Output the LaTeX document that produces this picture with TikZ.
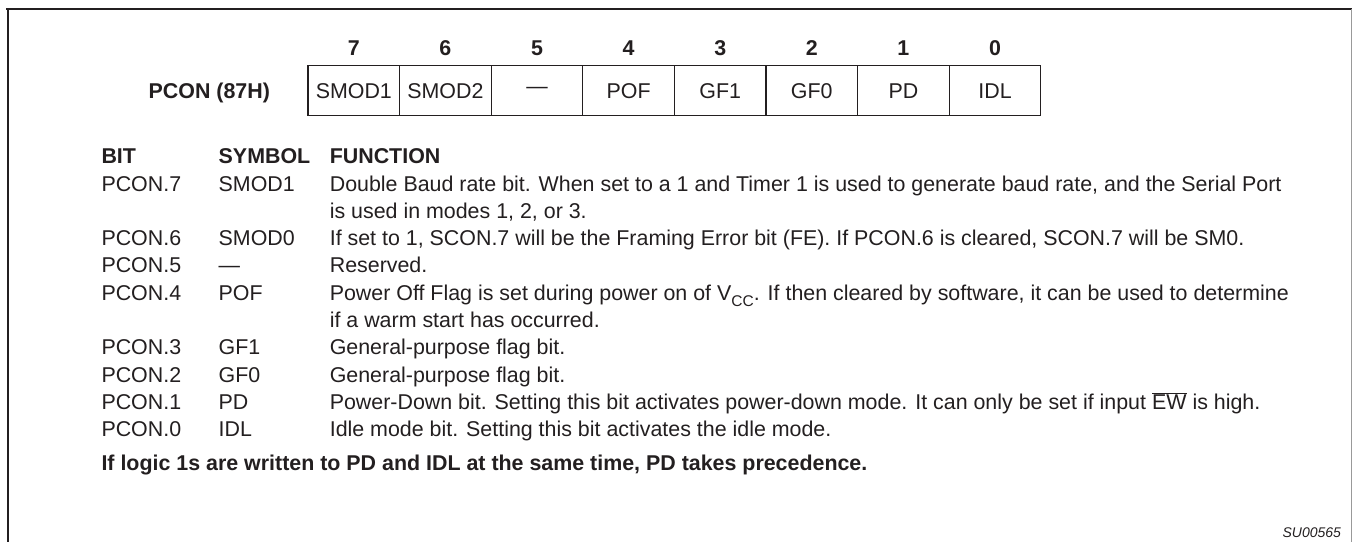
\documentclass[tikz,border=0pt]{standalone}
\usepackage{fontspec}
\setmainfont{Liberation Sans}
\definecolor{ink}{HTML}{231F20}
\begin{document}
\begin{tikzpicture}[x=1pt,y=-1pt,
  txt/.style={inner sep=0pt,outer sep=0pt,anchor=base west,text=ink,font=\fontsize{21.4}{25}\selectfont},
  bold/.style={txt,font=\fontsize{21.4}{25}\selectfont\bfseries},
  cell/.style={draw=ink,line width=1.1pt,minimum width=91.6pt,minimum height=50pt,inner sep=0pt,text=ink,font=\fontsize{21.4}{25}\selectfont},
  bitnum/.style={inner sep=0pt,anchor=base,text=ink,font=\fontsize{21.4}{25}\selectfont\bfseries}]
\useasboundingbox (0,0) rectangle (1352,542);
\fill[white] (0,0) rectangle (1352,542);
% frame
\coordinate (tl) at (6,9);
\coordinate (tr) at (1352,9);
\coordinate (lt) at (8.3,9);
\coordinate (lb) at (8.3,542);
\coordinate (rt) at (1351,9);
\coordinate (rb) at (1351,542);
\draw[line width=2.5pt,ink] (tl) -- (tr);
\draw[line width=2pt,ink] (lt) -- (lb);
\draw[line width=1pt,black!40] (rt) -- (rb);
% register
\foreach \t [count=\i from 0] in {SMOD1,SMOD2,---,POF,GF1,GF0,PD,IDL}{
  \pgfmathsetmacro{\cx}{353.8+91.6*\i}
  \pgfmathtruncatemacro{\b}{7-\i}
  \node[cell] (c\i) at (\cx,90.7) {\t};
  \node[bitnum] (n\i) at (\cx,55.7) {\b};
}
\node[bold,anchor=base east] (reg) at (270,98.7) {PCON (87H)};
% table
\node[bold] (hbit) at (101.5,163.7) {BIT};
\node[bold] (hsym) at (218.7,163.7) {SYMBOL};
\node[bold] (hfun) at (329.8,163.7) {FUNCTION};
% rows
\node[txt] (b7) at (101.5,191.0) {PCON.7};
\node[txt] (s7) at (218.7,191.0) {SMOD1};
\node[txt] (f7) at (329.8,191.0) {Double Baud rate bit. When set to a 1 and Timer 1 is used to generate baud rate, and the Serial Port};
\node[txt] (f7b) at (329.8,218.3) {is used in modes 1, 2, or 3.};
\node[txt] (b6) at (101.5,245.6) {PCON.6};
\node[txt] (s6) at (218.7,245.6) {SMOD0};
\node[txt] (f6) at (329.8,245.6) {If set to 1, SCON.7 will be the Framing Error bit (FE). If PCON.6 is cleared, SCON.7 will be SM0.};
\node[txt] (b5) at (101.5,272.9) {PCON.5};
\node[txt] (s5) at (218.7,272.9) {---};
\node[txt] (f5) at (329.8,272.9) {Reserved.};
\node[txt] (b4) at (101.5,300.2) {PCON.4};
\node[txt] (s4) at (218.7,300.2) {POF};
\node[txt] (f4) at (329.8,300.2) {Power Off Flag is set during power on of V\raisebox{-0.3em}{\fontsize{15.5}{18}\selectfont CC}. If then cleared by software, it can be used to determine};
\node[txt] (f4b) at (329.8,327.5) {if a warm start has occurred.};
\node[txt] (b3) at (101.5,354.8) {PCON.3};
\node[txt] (s3) at (218.7,354.8) {GF1};
\node[txt] (f3) at (329.8,354.8) {General-purpose flag bit.};
\node[txt] (b2) at (101.5,382.1) {PCON.2};
\node[txt] (s2) at (218.7,382.1) {GF0};
\node[txt] (f2) at (329.8,382.1) {General-purpose flag bit.};
\node[txt] (b1) at (101.5,409.4) {PCON.1};
\node[txt] (s1) at (218.7,409.4) {PD};
\node[txt] (f1) at (329.8,409.4) {Power-Down bit. Setting this bit activates power-down mode. It can only be set if input $\overline{\mbox{EW}}$ is high.};
\node[txt] (b0) at (101.5,436.7) {PCON.0};
\node[txt] (s0) at (218.7,436.7) {IDL};
\node[txt] (f0) at (329.8,436.7) {Idle mode bit. Setting this bit activates the idle mode.};
\node[bold] (note) at (101.5,470.0) {If logic 1s are written to PD and IDL at the same time, PD takes precedence.};
\node[txt,anchor=base east,font=\fontsize{14}{16}\selectfont\itshape] (code) at (1341,537) {SU00565};
\end{tikzpicture}
\end{document}
